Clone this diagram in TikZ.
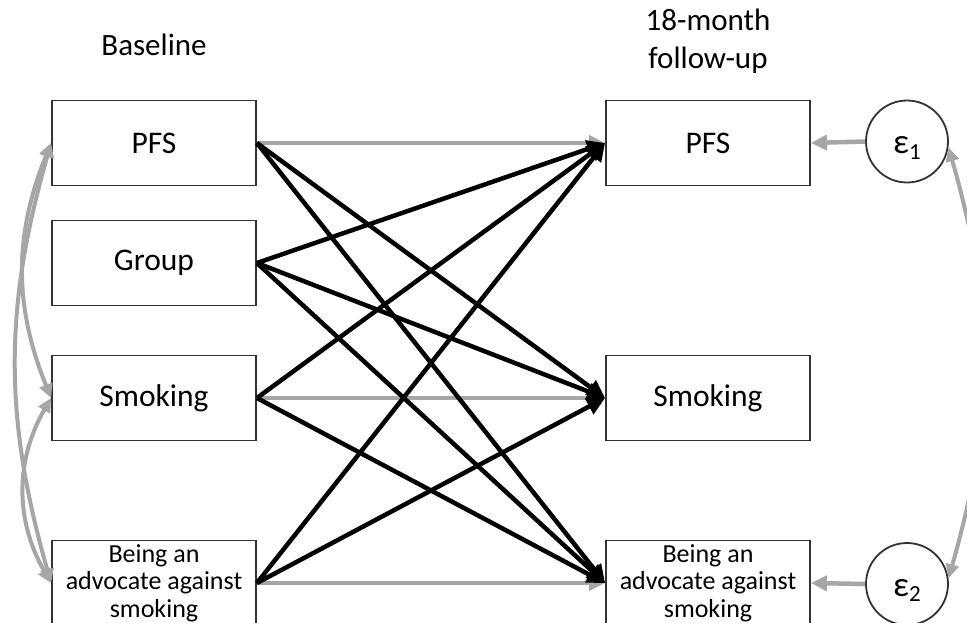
\documentclass[tikz,border=0pt]{standalone}
\usepackage{fontspec}
\setmainfont{Carlito}
\usetikzlibrary{arrows.meta}
\definecolor{gr}{HTML}{A6A6A6}
\newcommand{\epslab}[1]{\raisebox{-12pt}[0pt][0pt]{ε\raisebox{-0.35ex}{\fontsize{23}{23}\selectfont #1}}}
\begin{document}
\begin{tikzpicture}[x=1pt,y=-1pt,
  box/.style={draw=black!80,line width=1.8pt,minimum width=204pt,minimum height=85pt,inner sep=0pt,font=\fontsize{31.5}{33}\selectfont},
  sbox/.style={box,font=\fontsize{26}{27.5}\selectfont,align=center},
  hdr/.style={font=\fontsize{31}{38}\selectfont,align=center},
  eps/.style={circle,draw=black!80,line width=1.8pt,minimum size=82pt,inner sep=0pt,font=\fontsize{35}{35}\selectfont},
  blk/.style={draw=black,line width=4.5pt,-{Triangle[length=18pt,width=17pt]}},
  gry/.style={draw=gr,line width=4.5pt,-{Triangle[length=16pt,width=15pt]}},
  cov/.style={draw=gr,line width=4pt,{Triangle[length=14pt,width=13pt]}-{Triangle[length=14pt,width=13pt]}}]
\useasboundingbox (0,0) rectangle (967,623);
\fill[white] (0,0) rectangle (967,623);
% headers
\node[hdr] (hb) at (154,45) {Baseline};
\node[hdr] (hf) at (708,41) {18-month\\follow-up};
% left boxes
\node[box] (lp) at (154,143) {PFS};
\node[box] (lg) at (154,263) {Group};
\node[box] (ls) at (154,398) {Smoking};
\node[sbox] (la) at (154,583) {Being an\\advocate against\\smoking};
% right boxes
\node[box] (rp) at (708,143) {PFS};
\node[box] (rs) at (708,398) {Smoking};
\node[sbox] (ra) at (708,583) {Being an\\advocate against\\smoking};
% error terms
\node[eps] (e1) at (907,141.5) {\epslab{1}};
\node[eps] (e2) at (907,584) {\epslab{2}};
% gray stability paths
\draw[gry] (lp.east) -- (rp.west);
\draw[gry] (ls.east) -- (rs.west);
\draw[gry] (la.east) -- (ra.west);
% black cross paths
\draw[blk] (lp.east) -- (rs.west);
\draw[blk] (lp.east) -- (ra.west);
\draw[blk] (lg.east) -- (rp.west);
\draw[blk] (lg.east) -- (rs.west);
\draw[blk] (lg.east) -- (ra.west);
\draw[blk] (ls.east) -- (rp.west);
\draw[blk] (ls.east) -- (ra.west);
\draw[blk] (la.east) -- (rp.west);
\draw[blk] (la.east) -- (rs.west);
% residual paths
\draw[gry] (e1.west) -- (rp.east);
\draw[gry] (e2.west) -- (ra.east);
% covariances
\draw[cov] (lp.west) to[bend right=22] (ls.west);
\draw[cov] (lp.west) to[bend right=16] (la.west);
\draw[cov] (ls.west) to[bend right=30] (la.west);
\draw[cov] (e1.-8) to[bend left=16] (e2.8);
\end{tikzpicture}
\end{document}
